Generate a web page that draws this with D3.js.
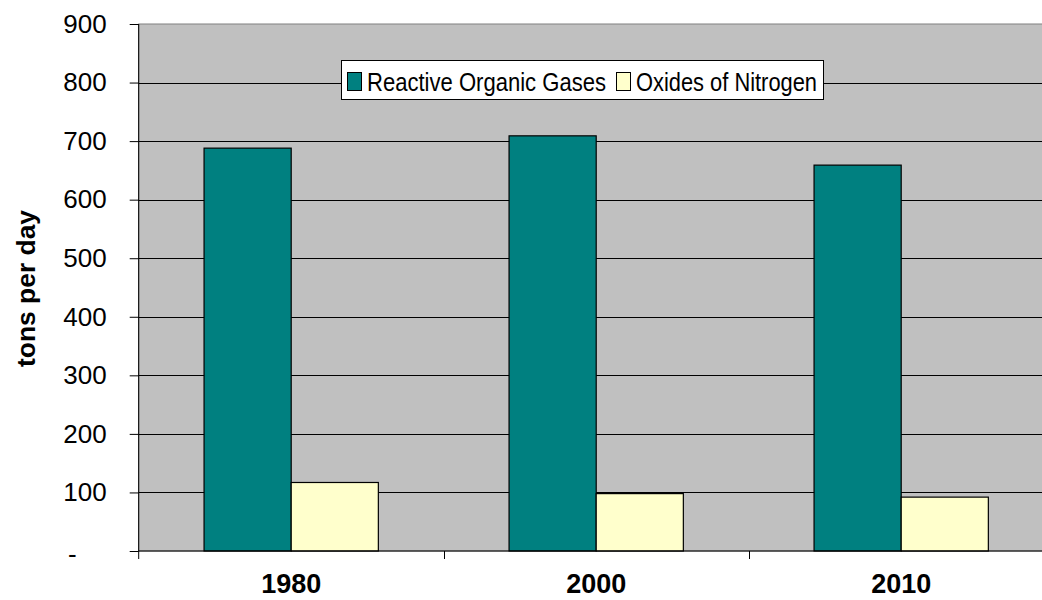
<!DOCTYPE html>
<html>
<head>
<meta charset="utf-8">
<script src="https://cdn.jsdelivr.net/npm/d3@7"></script>
<style>
  body { margin: 0; background: #fff; }
  svg { display: block; font-family: "Liberation Sans", Arial, sans-serif; }
</style>
</head>
<body>
<div id="chart"></div>
<script>
// chart values
const years = ['1980', '2000', '2010'];
const seriesNames = ['Reactive Organic Gases', 'Oxides of Nitrogen'];
const rogValues = [688, 709, 659];
const noxValues = [117, 98, 92];
const yTicks = [0, 100, 200, 300, 400, 500, 600, 700, 800, 900];

const palette = {
    teal: '#008080',
    cream: '#FFFFCC'
};

const width = 1042;
const height = 600;
const plot = { left: 138.7, top: 24, right: 1053.7, bottom: 551 };

const svg = d3.select('#chart')
    .append('svg')
    .attr('width', width)
    .attr('height', height);

const x = d3.scaleBand()
    .domain(years)
    .range([plot.left, plot.right])
    .padding(0);

// excel style gap width of 150%
const xInner = d3.scaleBand()
    .domain(seriesNames)
    .range([0, x.bandwidth()])
    .paddingInner(0)
    .paddingOuter(0.75);

const y = d3.scaleLinear()
    .domain([0, 900])
    .range([plot.bottom, plot.top]);

const color = d3.scaleOrdinal(Object.values(palette)).domain(seriesNames);

// plot background
svg.append('rect')
    .attr('x', plot.left)
    .attr('y', plot.top)
    .attr('width', plot.right - plot.left)
    .attr('height', plot.bottom - plot.top)
    .attr('fill', '#c0c0c0')
    .attr('stroke', '#808080')
    .attr('stroke-width', 1);

// gridlines
svg.append('g')
    .selectAll('line')
    .data(yTicks.filter(d => d > 0 && d < 900))
    .enter()
    .append('line')
    .attr('x1', plot.left)
    .attr('x2', plot.right)
    .attr('y1', d => Math.round(y(d)) + 0.5)
    .attr('y2', d => Math.round(y(d)) + 0.5)
    .attr('stroke', '#000')
    .attr('stroke-width', 1);

// bars
const rows = years.map((yr, i) => ({
    year: yr,
    values: [
        { name: seriesNames[0], value: rogValues[i] },
        { name: seriesNames[1], value: noxValues[i] }
    ]
}));

const groups = svg.append('g')
    .selectAll('g')
    .data(rows)
    .enter()
    .append('g')
    .attr('transform', d => `translate(${x(d.year)},0)`);

groups.selectAll('rect')
    .data(d => d.values)
    .enter()
    .append('rect')
    .attr('x', d => xInner(d.name))
    .attr('y', d => y(d.value))
    .attr('width', xInner.bandwidth())
    .attr('height', d => plot.bottom - y(d.value))
    .attr('fill', d => color(d.name))
    .attr('stroke', '#000')
    .attr('stroke-width', 1.2);

// y axis
const yAxis = d3.axisLeft(y)
    .tickValues(yTicks)
    .tickSize(9)
    .tickPadding(23)
    .tickFormat(d => d === 0 ? '-' : d);

const yg = svg.append('g')
    .attr('transform', `translate(${plot.left},0)`)
    .call(yAxis);

yg.select('.domain')
    .attr('d', `M0,${plot.top}V${plot.bottom + 8}`)
    .attr('stroke', '#000');
yg.selectAll('.tick line').attr('stroke', '#000');
yg.selectAll('.tick text')
    .attr('font-size', 26)
    .attr('fill', '#000')
    .attr('font-family', '"Liberation Sans", Arial, sans-serif');
// accounting format puts the zero dash further left
yg.selectAll('.tick')
    .filter(d => d === 0)
    .select('text')
    .attr('x', -62)
    .attr('dy', '0.45em');

// x axis
const xAxis = d3.axisBottom(x)
    .tickSize(0)
    .tickPadding(23)
    .tickFormat(d => d);

const xg = svg.append('g')
    .attr('transform', `translate(0,${plot.bottom})`)
    .call(xAxis);

xg.select('.domain')
    .attr('d', `M${plot.left},0H${plot.right}`)
    .attr('stroke', '#000');
xg.selectAll('.tick text')
    .attr('font-size', 27)
    .attr('font-weight', 'bold')
    .attr('fill', '#000')
    .attr('font-family', '"Liberation Sans", Arial, sans-serif');

// category separators below the axis
xg.append('g')
    .selectAll('line')
    .data(years.slice(1))
    .enter()
    .append('line')
    .attr('x1', d => Math.round(x(d)) + 0.5)
    .attr('x2', d => Math.round(x(d)) + 0.5)
    .attr('y1', 0)
    .attr('y2', 8)
    .attr('stroke', '#000');

// axis title
svg.append('text')
    .attr('transform', `translate(35,${(plot.top + plot.bottom) / 2 + 1}) rotate(-90)`)
    .attr('text-anchor', 'middle')
    .attr('font-size', 26)
    .attr('font-weight', 'bold')
    .attr('textLength', 157)
    .attr('lengthAdjust', 'spacingAndGlyphs')
    .text('tons per day');

// legend
const legend = svg.append('g');

legend.append('rect')
    .attr('x', 341.5)
    .attr('y', 60.5)
    .attr('width', 482)
    .attr('height', 39)
    .attr('fill', '#fff')
    .attr('stroke', '#000');

const legendItems = [
    { name: seriesNames[0], sx: 347, tx: 367, tw: 239 },
    { name: seriesNames[1], sx: 616, tx: 636, tw: 181 }
];

legendItems.forEach(item => {
    legend.append('rect')
        .attr('x', item.sx + 0.5)
        .attr('y', 72.5)
        .attr('width', 14)
        .attr('height', 18)
        .attr('fill', color(item.name))
        .attr('stroke', '#000');
    legend.append('text')
        .attr('x', item.tx)
        .attr('y', 90.5)
        .attr('font-size', 26)
        .attr('textLength', item.tw)
        .attr('lengthAdjust', 'spacingAndGlyphs')
        .text(item.name);
});
</script>
</body>
</html>
